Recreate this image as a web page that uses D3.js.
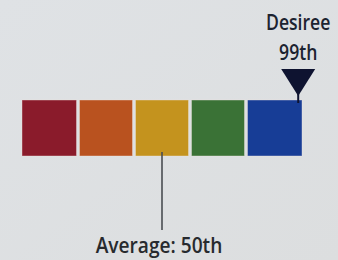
<!DOCTYPE html>
<html><head><meta charset="utf-8">
<script src="https://cdn.jsdelivr.net/npm/d3@7/dist/d3.min.js"></script>
<style>html,body{margin:0;padding:0;background:#dfe1e3;}svg{display:block;}</style>
</head><body><svg id="c" width="338" height="260"></svg>
<script>
const bands = ["Very low","Low","Average","High","Very high"];
const bandStarts = [0, 20, 40, 60, 80];
const bandEnds = [20, 40, 60, 80, 100];
const bandColors = ["#8a1b2b","#b9521f","#c4931e","#3a7236","#173d96"];
const averagePct = [50];
const averageLabel = ["Average: 50th"];
const personPct = [99];
const personLabel = ["Desiree", "99th"];

const svg = d3.select("#c");
const defs = svg.append("defs");
const g = defs.append("linearGradient").attr("id","bg").attr("x1",0).attr("y1",0).attr("x2",1).attr("y2",1);
g.append("stop").attr("offset","0%").attr("stop-color","#dfe2e5");
g.append("stop").attr("offset","100%").attr("stop-color","#dcdedf");
svg.append("rect").attr("width",338).attr("height",260).attr("fill","url(#bg)");

const x = d3.scaleLinear().domain([0,100]).range([22,302]);
const barTop = 100, barH = 56, gap = 3;

svg.selectAll("rect.band").data(bands).join("rect")
  .attr("class","band")
  .attr("x",(d,i)=>x(bandStarts[i]) + (i>0?gap/2:0))
  .attr("y",barTop)
  .attr("width",(d,i)=>x(bandEnds[i]) - x(bandStarts[i]) - (i>0?gap/2:0) - (i<bands.length-1?gap/2:0))
  .attr("height",barH)
  .attr("fill",(d,i)=>bandColors[i])
  .attr("stroke","#f2e6e2").attr("stroke-opacity",0.5).attr("stroke-width",0.8);

// average line
svg.selectAll("line.avg").data(averagePct).join("line")
  .attr("class","avg")
  .attr("x1",d=>x(d)).attr("x2",d=>x(d))
  .attr("y1",barTop+barH-4).attr("y2",230)
  .attr("stroke","#4a4d52").attr("stroke-width",1.6);

svg.selectAll("text.avg").data(averagePct).join("text")
  .attr("class","avg")
  .attr("transform",d=>`translate(${x(d)-3},253) scale(0.87,1)`)
  .attr("text-anchor","middle")
  .attr("font-family","'Open Sans', sans-serif").attr("font-weight",600)
  .attr("font-size",22).attr("fill","#272a2e")
  .text((d,i)=>averageLabel[i]);

// person marker
const px = x(personPct[0]) - 1;
svg.append("line").attr("x1",px).attr("x2",px).attr("y1",88).attr("y2",103)
  .attr("stroke","#0e1330").attr("stroke-width",2);
svg.append("path")
  .attr("d",`M${px-17},69 L${px+17},69 L${px},96 Z`)
  .attr("fill","#0e1330");

svg.selectAll("text.person").data(personLabel).join("text")
  .attr("class","person")
  .attr("transform",(d,i)=>`translate(${px},${30+i*30}) scale(0.8,1)`)
  .attr("text-anchor","middle")
  .attr("font-family","'Open Sans', sans-serif").attr("font-weight",600)
  .attr("font-size",22).attr("fill","#1c2330")
  .text(d=>d);
</script></body></html>
